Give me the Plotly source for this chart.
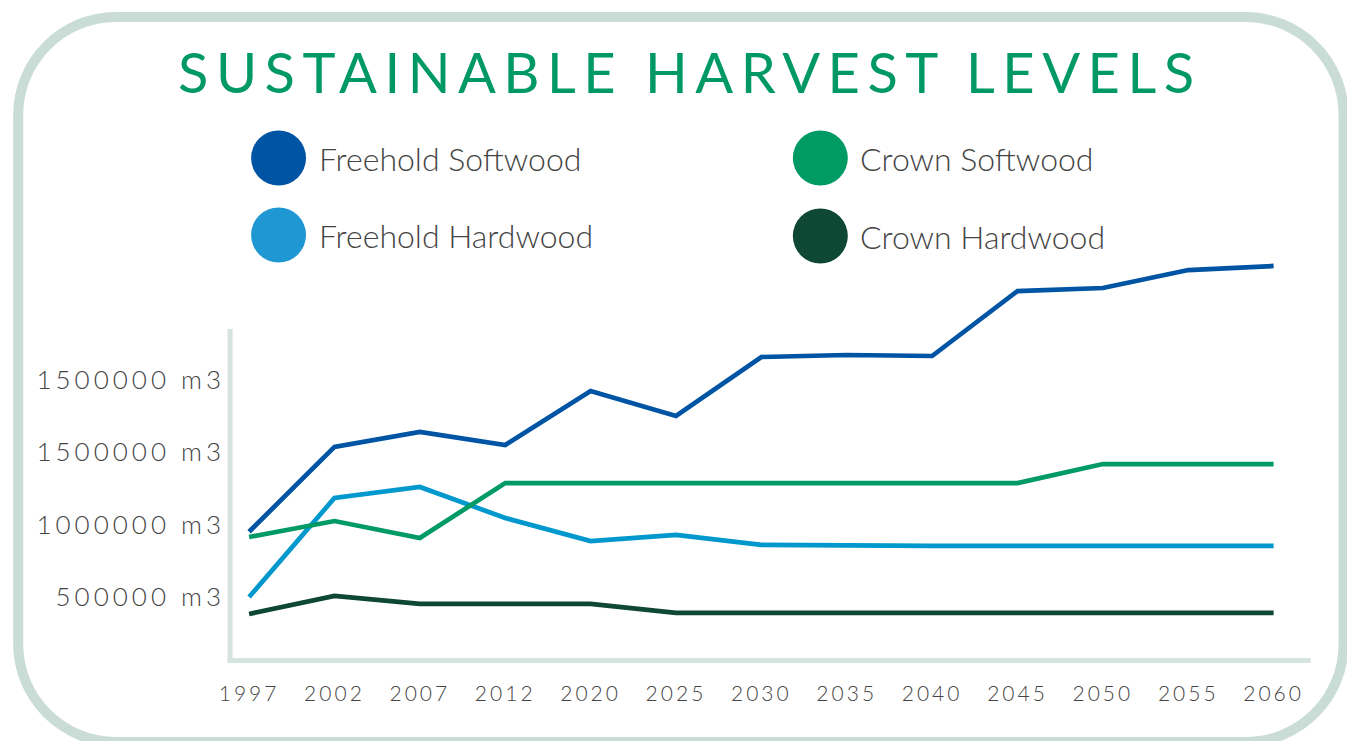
import plotly.graph_objects as go

# Harvest projection years (category axis)
years = ["1997", "2002", "2007", "2012", "2020", "2025", "2030",
         "2035", "2040", "2045", "2050", "2055", "2060"]

# Sustainable harvest levels, cubic metres per year
freehold_softwood = [950000, 1535000, 1638000, 1548000, 1921000, 1748000, 2155000,
                     2169000, 2162000, 2610000, 2631000, 2755000, 2783000]
freehold_hardwood = [500000, 1183000, 1259000, 1045000, 886000, 928000, 859000,
                     852000, 852000, 852000, 852000, 852000, 852000]
crown_softwood = [914000, 1024000, 907000, 1286000, 1286000, 1286000, 1286000,
                  1286000, 1286000, 1286000, 1417000, 1417000, 1417000]
crown_hardwood = [383000, 507000, 452000, 452000, 452000, 390000, 390000,
                  390000, 390000, 390000, 390000, 390000, 390000]

series_names = ["Freehold Softwood", "Freehold Hardwood", "Crown Softwood", "Crown Hardwood"]
series_values = [freehold_softwood, freehold_hardwood, crown_softwood, crown_hardwood]
line_colors = ["#0054A4", "#0098CD", "#009A64", "#0E4733"]
legend_colors = ["#0054A4", "#1E97D3", "#009A64", "#0E4733"]

# Y tick values and their printed labels
y_tickvals = [500000, 1000000, 1500000, 2000000]
y_ticktext = ["500000 m3", "1000000 m3", "1500000 m3", "1500000 m3"]

W, H = 1347, 741
X_OFF, X_SCALE = 9.8, 0.9923  # horizontal layout mapping


def px(x):
    return (x - X_OFF) / X_SCALE / W


def py(y):
    return 1 - y / H


def spaced(text, ls):
    return f'<span style="letter-spacing:{ls}px">{text}</span>'


fig = go.Figure()
for name, vals, col in zip(series_names, series_values, line_colors):
    fig.add_trace(go.Scatter(
        x=years, y=vals, name=name, mode="lines",
        line=dict(color=col, width=4.7), showlegend=False,
    ))

shapes = []

# Rounded outer frame
L, R, T, B, r = 17, 1343, 17, 742, 98
kx = 0.5523 * r
pts = [
    ("M", [(L + r, T)]),
    ("L", [(R - r, T)]),
    ("C", [(R - r + kx, T), (R, T + r - kx), (R, T + r)]),
    ("L", [(R, B - r)]),
    ("C", [(R, B - r + kx), (R - r + kx, B), (R - r, B)]),
    ("L", [(L + r, B)]),
    ("C", [(L + r - kx, B), (L, B - r + kx), (L, B - r)]),
    ("L", [(L, T + r)]),
    ("C", [(L, T + r - kx), (L + r - kx, T), (L + r, T)]),
]
path = " ".join(cmd + " " + " ".join(f"{px(x):.6f},{py(y):.6f}" for x, y in p) for cmd, p in pts) + " Z"
shapes.append(dict(type="path", path=path, xref="paper", yref="paper",
                   line=dict(color="#C9DCD5", width=10), layer="below"))

# Axis lines
axis_col = "#D6E4DF"
shapes.append(dict(type="line", xref="paper", yref="paper",
                   x0=px(229), x1=px(229), y0=py(329), y1=py(662.5),
                   line=dict(color=axis_col, width=5), layer="below"))
shapes.append(dict(type="line", xref="paper", yref="paper",
                   x0=px(226.5), x1=px(1310), y0=py(660.5), y1=py(660.5),
                   line=dict(color=axis_col, width=5), layer="below"))

# Legend markers and labels
legend_pos = [(277.5, 158), (277.5, 235), (819.5, 158), (819.5, 236)]
legend_text_x = [316, 316, 857, 857]
annotations = []
for (cx, cy), tx, name, col in zip(legend_pos, legend_text_x, series_names, legend_colors):
    rad = 27.5
    shapes.append(dict(type="circle", xref="paper", yref="paper",
                       x0=px(cx - rad), x1=px(cx + rad), y0=py(cy + rad), y1=py(cy - rad),
                       fillcolor=col, line=dict(width=0)))
    annotations.append(dict(
        text=name, xref="paper", yref="paper", x=px(tx), y=py(cy),
        xanchor="left", yanchor="middle", showarrow=False,
        font=dict(family="Lato", size=32, color="#444444", weight=300),
    ))

# Title
annotations.append(dict(
    text=spaced("SUSTAINABLE HARVEST LEVELS", 7.5),
    xref="paper", yref="paper", x=px(689), y=py(71),
    xanchor="center", yanchor="middle", showarrow=False,
    font=dict(family="Lato", size=56, color="#009966", weight=400),
))

fig.update_layout(
    width=W, height=H, autosize=False,
    margin=dict(l=0, r=0, t=0, b=0),
    paper_bgcolor="white", plot_bgcolor="white",
    shapes=shapes, annotations=annotations,
    xaxis=dict(
        domain=[px(229), px(1310)],
        type="category", range=[-0.2224, 12.433],
        showgrid=False, zeroline=False, showline=False, ticks="",
        tickangle=0,
        tickvals=years, ticktext=[spaced(y, 3) for y in years],
        tickfont=dict(family="Lato", size=21, color="#444444", weight=300),
        ticklabelstandoff=18,
    ),
    yaxis=dict(
        domain=[py(660.5), py(250)],
        range=[(669.5 - 660.5) / 145e-6, (669.5 - 250) / 145e-6],
        showgrid=False, zeroline=False, showline=False, ticks="",
        tickvals=y_tickvals, ticktext=[spaced(t, 4) for t in y_ticktext],
        tickfont=dict(family="Lato", size=26, color="#444444", weight=300),
        ticklabelstandoff=4,
    ),
    showlegend=False,
)

# Page without body margin or scrollbars so the figure fills the window
fig.write_html(
    "out.html",
    post_script="document.body.style.margin='0';"
                "document.documentElement.style.overflow='hidden';",
)
